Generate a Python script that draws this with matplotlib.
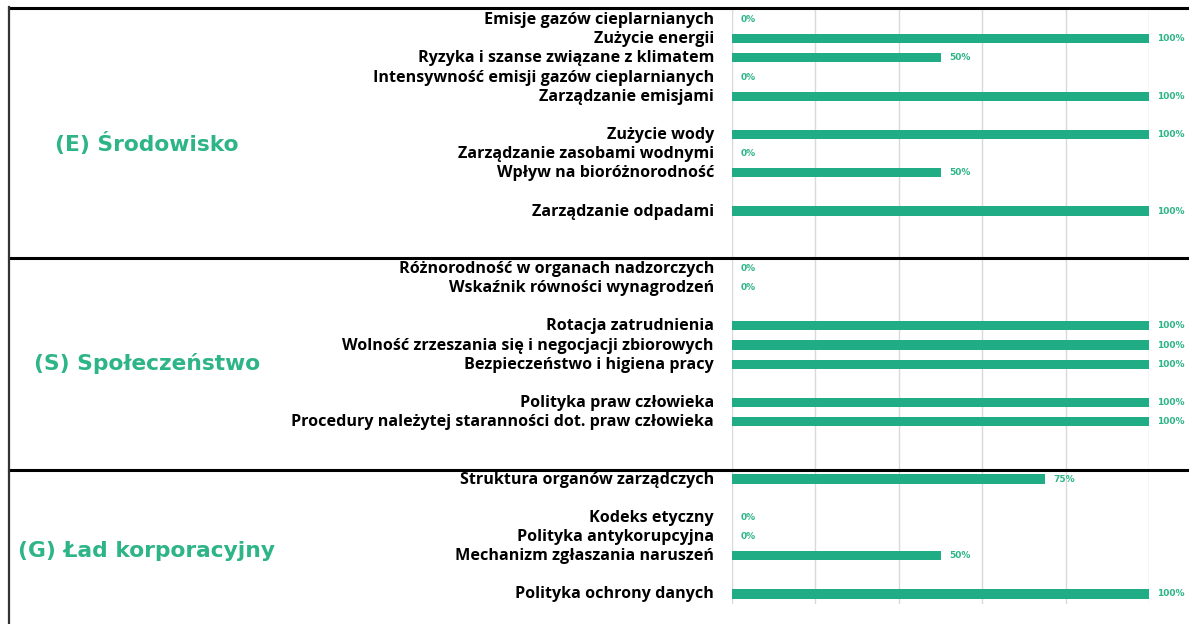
import numpy as np
import matplotlib
matplotlib.use("Agg")
import matplotlib.pyplot as plt
from matplotlib.lines import Line2D
from matplotlib.ticker import MultipleLocator
from matplotlib.transforms import ScaledTranslation

categories = [
    "Emisje gazów cieplarnianych",
    "Zużycie energii",
    "Ryzyka i szanse związane z klimatem",
    "Intensywność emisji gazów cieplarnianych",
    "Zarządzanie emisjami",
    "",
    "Zużycie wody",
    "Zarządzanie zasobami wodnymi",
    "Wpływ na bioróżnorodność",
    "",
    "Zarządzanie odpadami",
    "",
    "",
    "Różnorodność w organach nadzorczych",
    "Wskaźnik równości wynagrodzeń",
    "",
    "Rotacja zatrudnienia",
    "Wolność zrzeszania się i negocjacji zbiorowych",
    "Bezpieczeństwo i higiena pracy",
    "",
    "Polityka praw człowieka",
    "Procedury należytej staranności dot. praw człowieka",
    "",
    "",
    "Struktura organów zarządczych",
    "",
    "Kodeks etyczny",
    "Polityka antykorupcyjna",
    "Mechanizm zgłaszania naruszeń",
    "",
    "Polityka ochrony danych",
]
values = [
    0.0, 1.0, 0.5, 0.0, 1.0, None,
    1.0, 0.0, 0.5, None,
    1.0, None, None,
    0.0, 0.0, None,
    1.0, 1.0, 1.0, None,
    1.0, 1.0, None, None,
    0.75, None,
    0.0, 0.0, 0.5, None,
    1.0,
]
sections = ["(E) Środowisko", "(S) Społeczeństwo", "(G) Ład korporacyjny"]

GREEN = "#20AD86"
LABEL_GREEN = "#2DB487"

W, H = 1189, 624
fig = plt.figure(figsize=(W / 100, H / 100), dpi=100)
ax = fig.add_axes([732 / W, 1 - 603.5 / H, (1149 - 732) / W, (603.5 - 10) / H])

n = len(categories)
ypos = np.arange(n)
for y, v in zip(ypos, values):
    if v is None:
        continue
    if v > 0:
        ax.barh(y, v, height=0.48, color=GREEN, zorder=3)
    ax.annotate(f"{int(round(v * 100))}%", xy=(v, y), xytext=(6.0, 0),
                textcoords="offset points", va="center", ha="left",
                fontsize=6.5, fontweight="bold", color=LABEL_GREEN,
                family="DejaVu Sans", annotation_clip=False)

ax.set_xlim(0, 1)
ax.set_ylim(n - 0.5, -0.5)
ax.xaxis.set_major_locator(MultipleLocator(0.2))
ax.grid(axis="x", color="#d9d9d9", linewidth=1, zorder=0)
ax.set_yticks(ypos)
ax.set_yticklabels(categories, fontsize=11.6, fontweight="bold", family="Open Sans")
ax.tick_params(axis="y", length=0, pad=13)
ax.tick_params(axis="x", length=0, labelbottom=False)
shift = ScaledTranslation(0, 1.5 / 100, fig.dpi_scale_trans)
for lab in ax.get_yticklabels():
    lab.set_transform(lab.get_transform() + shift)
for s in ax.spines.values():
    s.set_visible(False)

# section labels
sec_y = [143, 364, 551]
for name, yy in zip(sections, sec_y):
    fig.text(147 / W, 1 - yy / H, name, ha="center", va="center",
             fontsize=15.7, fontweight="bold", color=LABEL_GREEN,
             family="DejaVu Sans")

# frame lines
for yy in [7.5, 257.5, 470]:
    fig.add_artist(Line2D([9 / W, 1], [1 - yy / H, 1 - yy / H],
                          color="black", linewidth=2.2, transform=fig.transFigure))
fig.add_artist(Line2D([9 / W, 9 / W], [1 - 7 / H, 0], color="#333333",
                      linewidth=1.6, transform=fig.transFigure))

fig.savefig("out.png", dpi=100)
